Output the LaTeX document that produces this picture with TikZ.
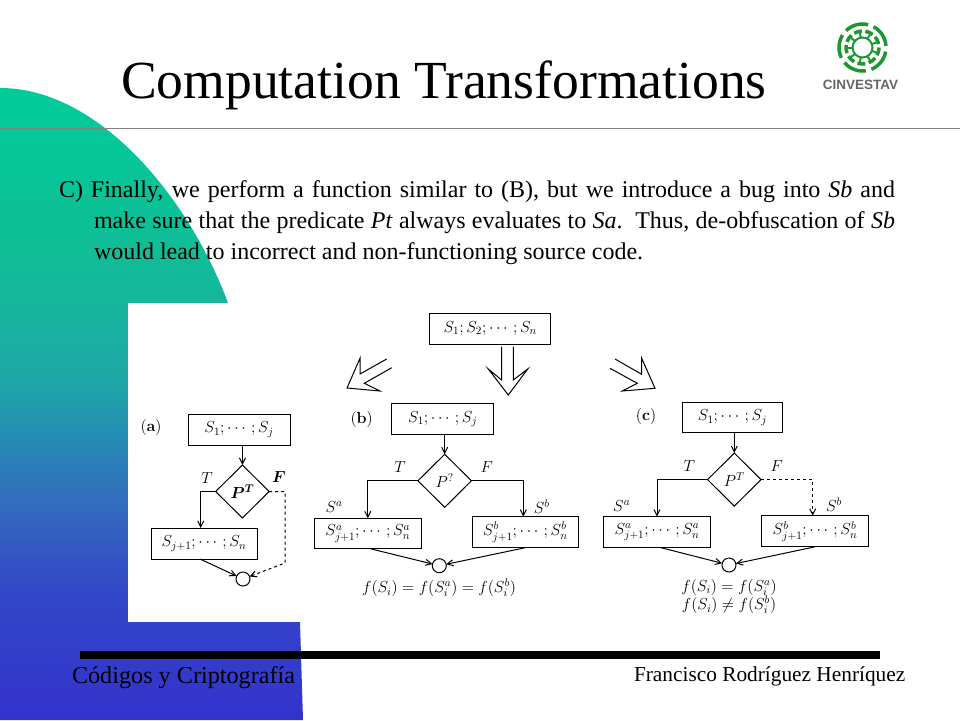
\documentclass[tikz,border=0pt]{standalone}
\usepackage{fix-cm}
\usepackage{amsmath}
\usepackage[no-math]{fontspec}
\setmainfont{Liberation Serif}
\newfontfamily\logofont{Liberation Sans}
\usetikzlibrary{shapes.geometric, arrows.meta}
\definecolor{logogreen}{RGB}{30,150,50}
\definecolor{rulegray}{RGB}{130,130,130}
\pgfdeclareverticalshading{slidefade}{100bp}{
  rgb(0bp)=(0.2,0.2,0.8); rgb(25bp)=(0.2,0.2,0.8); rgb(35bp)=(0.2,0.275,0.785); rgb(42.5bp)=(0.2,0.43,0.745);
  rgb(47.5bp)=(0.14,0.55,0.705); rgb(52.5bp)=(0.12,0.665,0.645); rgb(62.5bp)=(0.06,0.745,0.59);
  rgb(75bp)=(0,0.8,0.6); rgb(100bp)=(0,0.8,0.6)}

\begin{document}
\begin{tikzpicture}[x=1pt, y=-1pt, >={Straight Barb[length=6pt, width=6pt]}]
\tikzstyle{every node} = [outer sep=0pt, inner sep=0pt]
\tikzstyle{stepbox} = [draw, shape=rectangle, line width=1pt, font=\fontsize{16}{18}\selectfont]
\tikzstyle{testbox} = [draw, shape=diamond, aspect=1, minimum width=53.5pt, minimum height=53pt, line width=1pt, font=\fontsize{16}{18}\selectfont]
\tikzstyle{joinbox} = [draw, shape=circle, minimum size=14pt, line width=1pt]
\tikzstyle{linelabel} = [font=\fontsize{16}{18}\selectfont]
\tikzstyle{every path} = [line width=1pt]
\useasboundingbox (0, 0) rectangle (960, 720);
\fill [white] (0, 0) rectangle (960, 720);

% background
\shade [shading=slidefade] (0, 88) .. controls (100, 88) and (190, 200) .. (228, 303)
  .. controls (270, 410) and (295, 520) .. (300, 622) -- (303, 720) -- (0, 720) -- cycle;
\fill [white] (128, 303) rectangle (320, 622);
\draw [rulegray, line width=1pt] (0, 128.5) -- (960, 128.5);
\fill [black] (80, 651) rectangle (880, 659);

% logo
\foreach \a in {10, 82, 154, 226, 298}
  \draw [logogreen, line width=3.5pt] (862.5, 47.5) ++(\a:23.5) arc [start angle=\a, end angle=\a+58, radius=23.5];
\foreach \a in {0, 40, ..., 320}
  \draw [logogreen, line width=3.5pt] (862.5, 47.5) ++(\a:16.5) arc [start angle=\a, end angle=\a+28, radius=16.5];
\foreach \a in {20, 60, ..., 340}
  \draw [logogreen, line width=2pt] (862.5, 47.5) ++(\a:10) -- ++(\a:7);
\draw [logogreen, line width=2pt] (862.5, 47.5) circle (10);
\node [anchor=base, text=black!60, font=\logofont\bfseries\fontsize{13.5}{15}\selectfont] (logoname) at (860.5, 89) {CINVESTAV};

% texts
\node [anchor=base west, font=\fontsize{53.6}{60}\selectfont] (title) at (121, 98) {Computation Transformations};
\node [anchor=base west, font=\fontsize{24}{26}\selectfont] (lineone) at (59, 197.5)
  {\makebox[836pt][s]{C) Finally, we perform a function similar to (B), but we introduce a bug into \textit{Sb} and}};
\node [anchor=base west, font=\fontsize{24}{26}\selectfont] (linetwo) at (94, 228.5)
  {\makebox[801pt][s]{make sure that the predicate \textit{Pt} always evaluates to \textit{Sa}.\ \ Thus, de-obfuscation of \textit{Sb}}};
\node [anchor=base west, font=\fontsize{24}{26}\selectfont] (linethree) at (94, 259.5)
  {would lead to incorrect and non-functioning source code.};
\node [anchor=base west, font=\fontsize{24.2}{26}\selectfont] (course) at (72, 683) {Códigos y Criptografía};
\node [anchor=base west, font=\fontsize{21.33}{24}\selectfont] (lecturer) at (634, 681) {Francisco Rodríguez Henríquez};

% first box and the three hollow arrows
\node [stepbox, minimum width=121.5pt, minimum height=31pt] (all) at (490.2, 328.5) {$S_1;S_2;\cdots;S_n$};
\draw (386.7, 359) -- (360, 374) -- (360, 358.3) -- (347, 388) -- (380, 391) -- (364.3, 383.3) -- (391.7, 367.7);
\draw (501.7, 346.7) -- (501.7, 380) -- (488.3, 369) -- (508.3, 395) -- (527.7, 369) -- (513.3, 380) -- (513.3, 346.7);
\draw (615, 359) -- (641.7, 374.3) -- (641.7, 358.3) -- (655, 388.3) -- (622.3, 391) -- (637.3, 383.3) -- (610, 368.3);

% case a
\node [linelabel] (laba) at (151, 427) {$\mathbf{(a)}$};
\node [stepbox, minimum width=102pt, minimum height=31pt] (heada) at (239, 429.5) {$S_1;\cdots;S_j$};
\node [testbox] (testa) at (242.4, 491.5) {$\boldsymbol{P^T}$};
\node [stepbox, minimum width=106pt, minimum height=31pt] (taila) at (204, 543.5) {$S_{j+1};\cdots;S_n$};
\node [joinbox] (joina) at (243, 579) {};
\node [linelabel] (ta) at (207, 478) {$T$};
\node [linelabel] (fa) at (279, 477) {$\boldsymbol{F}$};
\coordinate (benda) at (285, 563);

\draw [->] ([xshift=3.4pt]heada.south) to (testa.north);
\draw [->] (testa.west) -| ([xshift=-3.3pt]taila.north);
\draw [->] ([xshift=-4pt]taila.south) to (joina);
\draw [->, dashed] (testa.east) -| (benda) to (joina);

% case b
\node [linelabel] (labb) at (361.7, 419) {$\mathbf{(b)}$};
\node [stepbox, minimum width=102pt, minimum height=31pt] (headb) at (442.8, 419) {$S_1;\cdots;S_j$};
\node [testbox] (testb) at (444.7, 480.8) {$P^?$};
\node [stepbox, minimum width=107.5pt, minimum height=30.5pt] (leftb) at (367.8, 533.6) {$S^a_{j+1};\cdots;S^a_n$};
\node [stepbox, minimum width=106pt, minimum height=31pt] (rightb) at (525.3, 532.2) {$S^b_{j+1};\cdots;S^b_n$};
\node [joinbox] (joinb) at (439.3, 565.7) {};
\node [linelabel] (tb) at (400, 467) {$T$};
\node [linelabel] (fb) at (486.7, 467) {$F$};
\node [linelabel] (sab) at (334, 506.7) {$S^a$};
\node [linelabel] (sbb) at (541.7, 506.7) {$S^b$};
\node [linelabel] (eqb) at (439, 588) {$f(S_i) = f(S^a_i) = f(S^b_i)$};

\draw [->] ([xshift=1.9pt]headb.south) to (testb.north);
\draw [->] (testb.west) -| (leftb.north);
\draw [->] (testb.east) -| ([xshift=-2pt]rightb.north);
\draw [->] ([xshift=3pt]leftb.south) to (joinb);
\draw [->] (rightb.south) to (joinb);

% case c
\node [linelabel] (labc) at (646, 416) {$\mathbf{(c)}$};
\node [stepbox, minimum width=100.5pt, minimum height=30pt] (headc) at (732.5, 417.7) {$S_1;\cdots;S_j$};
\node [testbox] (testc) at (734.3, 479.6) {$P^T$};
\node [stepbox, minimum width=107.5pt, minimum height=31pt] (leftc) at (657, 532.2) {$S^a_{j+1};\cdots;S^a_n$};
\node [stepbox, minimum width=106.5pt, minimum height=31pt] (rightc) at (815, 531.3) {$S^b_{j+1};\cdots;S^b_n$};
\node [joinbox] (joinc) at (729, 565) {};
\node [linelabel] (tc) at (689.3, 466) {$T$};
\node [linelabel] (fc) at (776.7, 466) {$F$};
\node [linelabel] (sac) at (621.7, 506) {$S^a$};
\node [linelabel] (sbc) at (834, 505) {$S^b$};
\node [linelabel] (eqc) at (729, 587.3) {$f(S_i) = f(S^a_i)$};
\node [linelabel] (neqc) at (729, 605) {$f(S_i) \neq f(S^b_i)$};

\draw [->] ([xshift=1.8pt]headc.south) to (testc.north);
\draw [->] (testc.west) -| (leftc.north);
\draw [->, dashed] (testc.east) -| ([xshift=-2.3pt]rightc.north);
\draw [->] ([xshift=4pt]leftc.south) to (joinc);
\draw [->] (rightc.south) to (joinc);
\end{tikzpicture}
\end{document}
